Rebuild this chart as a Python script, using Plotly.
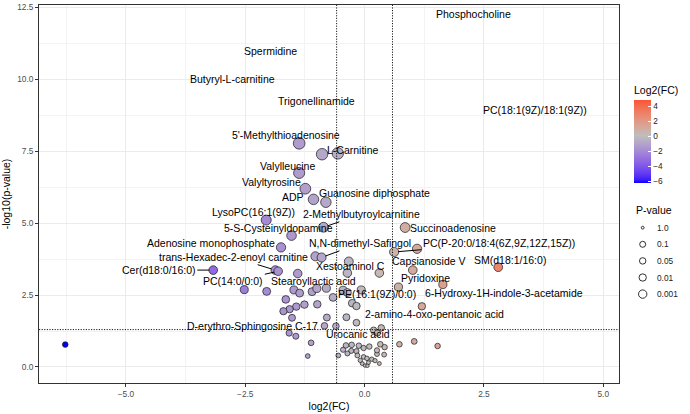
import numpy as np
import plotly.graph_objects as go

# ---------------- data ----------------
log2fc = [-1.37, -0.89, -0.56, -1.37, -1.24, -1.07, -0.81, -2.06, -0.86, -1.53,
          0.85, -1.75, -1.03, -0.90, -0.33, 0.62, 1.10, -1.87, -1.81, -3.17,
          -0.36, 0.31, 1.01, 2.80, -1.40,
          -2.52, -2.05, -1.48, -1.36, -1.10, -1.00, -0.80, -0.66, -0.45, -0.36,
          -0.07, -1.65, 0.71, 1.64, -0.26, -0.17, -1.26, -1.43, -1.57, -1.70,
          -1.52, -0.99, -0.79, -0.38, -0.17, -0.84, -0.60, 1.20, 0.19, 0.35, 0.27,
          -1.58, -1.44, -1.12, -1.19, -6.27, 0.73, 1.04, 1.53, 0.33, 0.42, 0.41, 0.10,
          -0.55, -0.45, -0.39, -0.27, -0.12, -0.28, -0.17, -0.36, -0.15, -0.02,
          -0.02, 0.05, 0.15, 0.22, 0.08, -0.05, 0.01, 0.06, 0.31, 0.26, 0.26, -0.09]
neglog10p = [7.78, 7.40, 7.43, 6.75, 6.20, 5.83, 5.73, 5.11, 4.86, 4.57,
             4.85, 4.16, 3.85, 3.81, 3.67, 4.00, 4.11, 3.37, 3.33, 3.37,
             3.27, 3.27, 3.37, 3.47, 3.25,
             2.69, 2.63, 2.68, 2.57, 2.62, 2.73, 2.74, 2.42, 2.67, 2.59,
             2.68, 2.35, 2.78, 2.87, 2.22, 2.12, 2.17, 2.10, 2.01, 1.94,
             1.71, 2.18, 1.72, 1.73, 1.54, 1.43, 1.42, 2.11, 1.28, 1.36, 1.18,
             1.18, 1.07, 0.84, 0.38, 0.78, 0.79, 0.89, 0.73, 0.79, 0.69, 0.43, 0.71,
             0.40, 0.60, 0.75, 0.77, 0.74, 0.56, 0.55, 0.47, 0.40, 0.66,
             0.35, 0.30, 0.27, 0.22, 0.15, 0.12, 0.05, 0.04, 0.12, 0.45, 0.58, 0.23]

lab_text = ["Phosphocholine", "Spermidine", "Butyryl-L-carnitine", "Trigonellinamide",
            "PC(18:1(9Z)/18:1(9Z))", "5'-Methylthioadenosine", "L-Carnitine", "Valylleucine",
            "Valyltyrosine", "ADP", "Guanosine diphosphate", "LysoPC(16:1(9Z))",
            "2-Methylbutyroylcarnitine", "5-S-Cysteinyldopamine", "Adenosine monophosphate",
            "Succinoadenosine", "N,N-dimethyl-Safingol", "PC(P-20:0/18:4(6Z,9Z,12Z,15Z))",
            "trans-Hexadec-2-enoyl carnitine", "Xestoaminol C", "Capsianoside V",
            "SM(d18:1/16:0)", "Cer(d18:0/16:0)", "PC(14:0/0:0)", "Stearoyllactic acid",
            "Pyridoxine", "PE(16:1(9Z)/0:0)", "6-Hydroxy-1H-indole-3-acetamide",
            "2-amino-4-oxo-pentanoic acid", "D-erythro-Sphingosine C-17", "Urocanic acid"]
lab_x = [2.29, -1.98, -2.77, -1.01, 3.58, -1.64, -0.24, -1.62, -1.95, -1.49, 0.20, -2.33,
         -0.07, -1.81, -3.21, 1.86, -0.10, 2.81, -2.75, -0.30, 1.36, 3.05, -4.31, -2.75,
         -1.06, 1.27, 0.27, 2.93, 1.46, -2.34, -0.13]
lab_y = [12.28, 10.99, 10.00, 9.24, 8.93, 8.06, 7.54, 6.98, 6.42, 5.91, 6.04, 5.38,
         5.31, 4.83, 4.30, 4.83, 4.30, 4.30, 3.82, 3.50, 3.68, 3.71, 3.37, 2.98,
         2.98, 3.09, 2.53, 2.56, 1.83, 1.42, 1.14]
# segment end points (label -> point), None where no segment is drawn
seg_x = [None] * 12 + [-0.86, None, None, None, -0.90, 0.62, -1.87, None, None, None,
                       -3.17, -1.81, None, None, None, None, None, None, None]
seg_y = [None] * 12 + [4.86, None, None, None, 3.81, 4.00, 3.37, None, None, None,
                       3.37, 3.33, None, None, None, None, None, None, None]

p_legend_vals = [1.0, 0.1, 0.05, 0.01, 0.001]
p_legend_text = ["1.0", "0.1", "0.05", "0.01", "0.001"]
fc_ticks = [-6, -4, -2, 0, 2, 4]

fc_cut = 1.5
p_cut = 0.05

# ---------------- styling helpers ----------------
FONT = "Liberation Sans, Arial, sans-serif"
L_M, R_M, T_M, B_M = 39, 71, 5, 31
PW, PH = 690 - L_M - R_M, 414 - T_M - B_M


def px2paper_x(px):
    return (px - L_M) / PW


def px2paper_y(py):
    return (414 - B_M - py) / PH


def size_of(v):
    return 2.8 + 3.2 * np.sqrt(np.asarray(v, dtype=float))


def _lin(c):
    c = c / 255.0
    return np.where(c <= 0.04045, c / 12.92, ((c + 0.055) / 1.055) ** 2.4)


def rgb2lab(rgb):
    r, g, b = _lin(np.array(rgb, dtype=float))
    X = 0.4124 * r + 0.3576 * g + 0.1805 * b
    Y = 0.2126 * r + 0.7152 * g + 0.0722 * b
    Z = 0.0193 * r + 0.1192 * g + 0.9505 * b
    X, Y, Z = X / 0.95047, Y / 1.0, Z / 1.08883

    def f(t):
        return t ** (1 / 3) if t > 0.008856 else 7.787 * t + 16 / 116
    fx, fy, fz = f(X), f(Y), f(Z)
    return np.array([116 * fy - 16, 500 * (fx - fy), 200 * (fy - fz)])


def lab2rgb(lab):
    L, a, b = lab
    fy = (L + 16) / 116
    fx = fy + a / 500
    fz = fy - b / 200

    def finv(t):
        return t ** 3 if t ** 3 > 0.008856 else (t - 16 / 116) / 7.787
    X, Y, Z = finv(fx) * 0.95047, finv(fy), finv(fz) * 1.08883
    r = 3.2406 * X - 1.5372 * Y - 0.4986 * Z
    g = -0.9689 * X + 1.8758 * Y + 0.0415 * Z
    bb = 0.0557 * X - 0.2040 * Y + 1.0570 * Z
    out = []
    for c in (r, g, bb):
        c = 12.92 * c if c <= 0.0031308 else 1.055 * c ** (1 / 2.4) - 0.055
        out.append(int(round(min(max(c, 0), 1) * 255)))
    return "rgb(%d,%d,%d)" % tuple(out)


LOW, MID, HIGH = rgb2lab((0, 0, 255)), rgb2lab((190, 190, 190)), rgb2lab((255, 0, 0))
cmin, cmax = min(log2fc), 4.8
half = max(abs(cmin), abs(cmax))


def color_at(v):
    t = v / (2 * half) + 0.5
    if t <= 0.5:
        lab = LOW + (MID - LOW) * (t / 0.5)
    else:
        lab = MID + (HIGH - MID) * ((t - 0.5) / 0.5)
    return lab2rgb(lab)


colorscale = [[float(p), color_at(cmin + p * (cmax - cmin))] for p in np.linspace(0, 1, 41)]

# ---------------- figure ----------------
fig = go.Figure()

fig.add_trace(go.Scatter(
    x=log2fc, y=neglog10p, mode="markers", showlegend=False, hoverinfo="x+y",
    marker=dict(size=size_of(neglog10p), color=log2fc, colorscale=colorscale,
                cmin=cmin, cmax=cmax, opacity=1,
                line=dict(color="#1a1a1a", width=0.7),
                colorbar=dict(title=dict(text="Log2(FC)", side="top",
                                         font=dict(size=10.5, color="black", family=FONT)),
                              thickness=17, len=100, lenmode="pixels",
                              x=px2paper_x(634), xanchor="left",
                              y=px2paper_y(183.3), yanchor="bottom",
                              tickvals=fc_ticks, ticks="inside",
                              tickcolor="white", ticklen=3, outlinewidth=0,
                              xpad=0, ypad=0,
                              tickfont=dict(size=8.3, color="#1a1a1a", family=FONT)))))

# threshold lines
xc = np.log2(fc_cut)
yc = -np.log10(p_cut)
dotted = dict(color="black", width=0.9, dash="1.2px,1.4px")
for xv in (-xc, xc):
    fig.add_shape(type="line", xref="x", yref="paper", x0=xv, x1=xv, y0=0, y1=1,
                  line=dotted, layer="above")
fig.add_shape(type="line", xref="paper", yref="y", x0=0, x1=1, y0=yc, y1=yc,
              line=dotted, layer="above")

# labels
for t, lx, ly, sx, sy in zip(lab_text, lab_x, lab_y, seg_x, seg_y):
    if sx is None:
        fig.add_annotation(x=lx, y=ly, text=t, showarrow=False, xanchor="center",
                           yanchor="middle", font=dict(size=10.5, color="black", family=FONT))
    else:
        fig.add_annotation(x=sx, y=sy, ax=lx, ay=ly, axref="x", ayref="y", text=t,
                           showarrow=True, arrowhead=0, arrowwidth=1, arrowcolor="black",
                           standoff=4, font=dict(size=10.5, color="black", family=FONT))

# P-value size legend (drawn by hand)
fig.add_annotation(xref="paper", yref="paper", x=px2paper_x(634), y=px2paper_y(210),
                   text="P-value", showarrow=False, xanchor="left", yanchor="middle",
                   font=dict(size=10.5, color="black", family=FONT))
for i, (v, t) in enumerate(zip(p_legend_vals, p_legend_text)):
    cy = px2paper_y(227.7 + i * 16.6)
    d = float(size_of(-np.log10(v)))
    fig.add_shape(type="circle", xref="paper", yref="paper", xsizemode="pixel", ysizemode="pixel",
                  xanchor=px2paper_x(642.7), yanchor=cy, x0=-d / 2, x1=d / 2, y0=-d / 2, y1=d / 2,
                  line=dict(color="#1a1a1a", width=0.9), fillcolor="white", layer="above")
    fig.add_annotation(xref="paper", yref="paper", x=px2paper_x(655), y=cy, text=t,
                       showarrow=False, xanchor="left", yanchor="middle",
                       font=dict(size=8.3, color="#1a1a1a", family=FONT))

axis_common = dict(showline=True, mirror=True, linecolor="#333333", linewidth=1,
                   ticks="outside", ticklen=3, tickcolor="#333333", tickwidth=1,
                   showgrid=True, gridcolor="#EBEBEB", gridwidth=1, zeroline=False,
                   tickfont=dict(size=8.3, color="#4D4D4D", family=FONT),
                   tickformat=".1f")

fig.update_xaxes(range=[-6.82, 5.33], tick0=0, dtick=2.5,
                 minor=dict(dtick=1.25, tick0=0, showgrid=True, gridcolor="#F3F3F3", gridwidth=0.6),
                 title=dict(text="log2(FC)", font=dict(size=10.5, color="black", family=FONT), standoff=4),
                 **axis_common)
fig.update_yaxes(range=[-0.557, 12.59], tick0=0, dtick=2.5,
                 minor=dict(dtick=1.25, tick0=0, showgrid=True, gridcolor="#F3F3F3", gridwidth=0.6),
                 title=dict(text="-log10(p-value)", font=dict(size=10.5, color="black", family=FONT), standoff=6),
                 **axis_common)

fig.update_layout(
    width=690, height=414, autosize=False,
    margin=dict(l=L_M, r=R_M, t=T_M, b=B_M, autoexpand=False),
    paper_bgcolor="white", plot_bgcolor="white",
    font=dict(family=FONT, color="black"),
    showlegend=False,
)

fig.write_html("out.html")
